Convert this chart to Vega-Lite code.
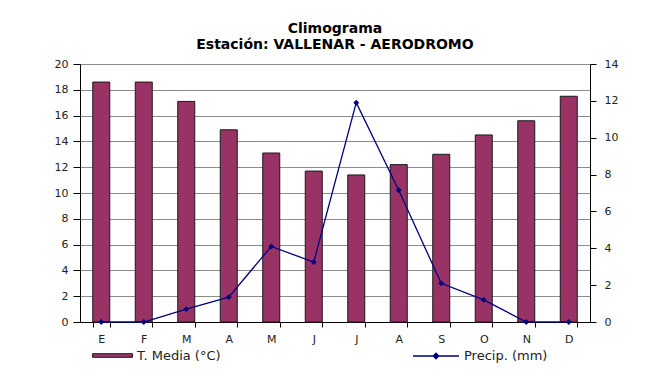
{
  "$schema": "https://vega.github.io/schema/vega-lite/v6.json",
  "width": 510,
  "height": 258,
  "autosize": {"type": "none"},
  "padding": {"left": 80, "top": 64, "right": 66, "bottom": 59},
  "background": "white",
  "title": {
    "text": ["Climograma", "Estación: VALLENAR - AERODROMO"],
    "font": "DejaVu Sans",
    "fontSize": 14,
    "fontWeight": "bold",
    "color": "black",
    "anchor": "middle",
    "lineHeight": 16,
    "offset": 6
  },
  "config": {
    "view": {"stroke": null},
    "axis": {
      "labelFont": "DejaVu Sans",
      "labelFontSize": 11,
      "labelColor": "#222",
      "domainColor": "black",
      "tickColor": "black",
      "title": null
    },
    "legend": {
      "labelFont": "DejaVu Sans",
      "labelFontSize": 12,
      "labelColor": "#222",
      "padding": 0
    }
  },
  "data": {
    "values": [
      {"n": 1, "mes": "E", "temp": 18.6, "pp": 0},
      {"n": 2, "mes": "F", "temp": 18.6, "pp": 0},
      {"n": 3, "mes": "M", "temp": 17.1, "pp": 0.7},
      {"n": 4, "mes": "A", "temp": 14.9, "pp": 1.35},
      {"n": 5, "mes": "M", "temp": 13.1, "pp": 4.1},
      {"n": 6, "mes": "J", "temp": 11.7, "pp": 3.25},
      {"n": 7, "mes": "J", "temp": 11.4, "pp": 11.9},
      {"n": 8, "mes": "A", "temp": 12.2, "pp": 7.15},
      {"n": 9, "mes": "S", "temp": 13.0, "pp": 2.1},
      {"n": 10, "mes": "O", "temp": 14.5, "pp": 1.2},
      {"n": 11, "mes": "N", "temp": 15.6, "pp": 0},
      {"n": 12, "mes": "D", "temp": 17.5, "pp": 0}
    ]
  },
  "encoding": {
    "x": {
      "field": "n",
      "type": "ordinal",
      "scale": {"paddingInner": 0.6, "paddingOuter": 0.3},
      "axis": {
        "labelAngle": 0,
        "labelExpr": "['E','F','M','A','M','J','J','A','S','O','N','D'][datum.value-1]",
        "tickBand": "extent",
        "tickSize": 5,
        "labelPadding": 6,
        "grid": false
      }
    }
  },
  "layer": [
    {
      "mark": {"type": "bar", "stroke": "#1a1a1a", "strokeWidth": 1},
      "encoding": {
        "y": {
          "field": "temp",
          "type": "quantitative",
          "scale": {"domain": [0, 20], "nice": false},
          "axis": {
            "values": [0, 2, 4, 6, 8, 10, 12, 14, 16, 18, 20],
            "grid": true,
            "gridColor": "#8c8c8c",
            "gridOpacity": 1,
            "tickSize": 7,
            "labelPadding": 5
          }
        },
        "fill": {
          "datum": "T. Media (°C)",
          "type": "nominal",
          "scale": {"range": ["#993366"]},
          "legend": {
            "title": null,
            "orient": "none",
            "legendX": 12,
            "legendY": 271,
            "symbolType": "M-1,-0.09L1,-0.09L1,0.09L-1,0.09Z",
            "symbolSize": 1600,
            "symbolStrokeColor": "#1a1a1a",
            "symbolStrokeWidth": 1,
            "labelFontSize": 13
          }
        }
      }
    },
    {
      "encoding": {
        "y": {
          "field": "pp",
          "type": "quantitative",
          "scale": {"domain": [0, 14], "nice": false},
          "axis": {
            "orient": "right",
            "values": [0, 2, 4, 6, 8, 10, 12, 14],
            "grid": false,
            "tickSize": 6,
            "labelPadding": 8
          }
        }
      },
      "layer": [
        {
          "mark": {"type": "line", "strokeWidth": 1.3},
          "encoding": {
            "stroke": {
              "datum": "Precip. (mm)",
              "type": "nominal",
              "scale": {"range": ["#000080"]},
              "legend": {
                "title": null,
                "orient": "none",
                "legendX": 332,
                "legendY": 268,
                "symbolType": "M-1,0L1,0M-0.12,0L0,-0.12L0.12,0L0,0.12Z",
                "symbolSize": 2116,
                "symbolFillColor": "#000080",
                "symbolStrokeWidth": 1.3,
                "labelFontSize": 13
              }
            }
          }
        },
        {
          "mark": {"type": "point", "shape": "diamond", "filled": true, "size": 35, "color": "#000080", "opacity": 1}
        }
      ]
    }
  ],
  "resolve": {"scale": {"y": "independent", "fill": "independent", "stroke": "independent"}}
}
